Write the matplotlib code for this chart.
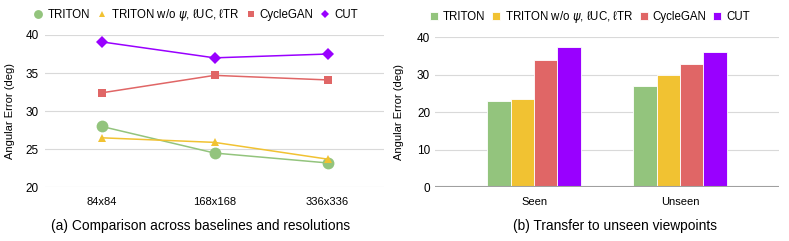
import matplotlib
matplotlib.use("Agg")
import matplotlib.pyplot as plt
import numpy as np

plt.rcParams['font.family'] = ['Liberation Sans', 'DejaVu Sans']
plt.rcParams['mathtext.fontset'] = 'dejavusans'

resolutions = ["84x84", "168x168", "336x336"]
triton_res = [28.0, 24.5, 23.2]
triton_wo_res = [26.5, 25.9, 23.7]
cyclegan_res = [32.4, 34.7, 34.1]
cut_res = [39.1, 37.0, 37.5]

viewpoints = ["Seen", "Unseen"]
triton_view = [23.0, 27.1]
triton_wo_view = [23.6, 29.8]
cyclegan_view = [34.0, 32.8]
cut_view = [37.4, 36.1]

labels = ["TRITON", "TRITON w/o $\\psi$, \u2113UC, \u2113TR", "CycleGAN", "CUT"]
colors = ["#93C47D", "#F1C232", "#E06666", "#9900FF"]

W, H = 789, 241
fig = plt.figure(figsize=(W / 100, H / 100), dpi=100)

def px_axes(x0, y_top, x1, y_bot):
    return fig.add_axes([x0 / W, (H - y_bot) / H, (x1 - x0) / W, (y_bot - y_top) / H])

grid_c = "#D9D9D9"

# Left: line chart
ax1 = px_axes(45, 35, 384, 187.3)
x = np.arange(len(resolutions))
series = [triton_res, triton_wo_res, cyclegan_res, cut_res]
markers = ["o", "^", "s", "D"]
msizes = [8.5, 6, 6, 6]
for s, c, m, ms, lab in zip(series, colors, markers, msizes, labels):
    ax1.plot(x, s, color=c, marker=m, markersize=ms, lw=1.1, label=lab,
             markeredgewidth=0, zorder=3)
ax1.set_xlim(-0.5, 2.5)
ax1.set_ylim(20, 40)
ax1.set_yticks([20, 25, 30, 35, 40])
ax1.set_xticks(x)
ax1.set_xticklabels(resolutions, fontsize=8)
ax1.tick_params(axis='y', labelsize=8.5, length=0, pad=4.3)
ax1.tick_params(axis='x', length=0, pad=7)
ax1.grid(axis='y', color=grid_c, lw=0.8)
ax1.set_axisbelow(True)
for sp in ax1.spines.values():
    sp.set_visible(False)
ax1.set_ylabel("Angular Error (deg)", fontsize=8)
ax1.yaxis.set_label_coords(-0.0885, 0.5)
leg1 = ax1.legend(loc='lower center', bbox_to_anchor=(0.445, 1.05), ncol=4, frameon=False,
                  fontsize=8.3, handlelength=0.8, handletextpad=0.4, columnspacing=0.6,
                  borderaxespad=0, markerscale=0.75)
for h in leg1.legend_handles:
    h.set_linestyle('')
fig.text(201 / W, (H - 226) / H, "(a) Comparison across baselines and resolutions",
         ha='center', va='center', fontsize=9.9)

# Right: bar chart
ax2 = px_axes(435, 37.3, 779, 187)
xv = np.arange(len(viewpoints))
bw = 0.16
bseries = [triton_view, triton_wo_view, cyclegan_view, cut_view]
for i, (s, c, lab) in enumerate(zip(bseries, colors, labels)):
    ax2.bar(xv + (i - 1.5) * bw, s, width=bw, color=c, label=lab,
            edgecolor='white', linewidth=0.6, zorder=3)
ax2.set_xlim(-0.68, 1.68)
ax2.set_ylim(0, 40)
ax2.set_yticks([0, 10, 20, 30, 40])
ax2.set_xticks(xv)
ax2.set_xticklabels(viewpoints, fontsize=8)
ax2.tick_params(axis='y', labelsize=8.5, length=0, pad=3.5)
ax2.tick_params(axis='x', length=0, pad=7)
ax2.grid(axis='y', color=grid_c, lw=0.8)
ax2.set_axisbelow(True)
for sp in ax2.spines.values():
    sp.set_visible(False)
ax2.axhline(0, color="#A0A0A0", lw=1.5, zorder=4)
ax2.set_ylabel("Angular Error (deg)", fontsize=8)
ax2.yaxis.set_label_coords(-0.090, 0.5)
ax2.legend(loc='lower center', bbox_to_anchor=(0.45, 1.05), ncol=4, frameon=False,
           fontsize=8.3, handlelength=0.7, handleheight=0.7, handletextpad=0.4,
           columnspacing=0.6, borderaxespad=0)
fig.text(615 / W, (H - 226) / H, "(b) Transfer to unseen viewpoints",
         ha='center', va='center', fontsize=9.9)

fig.savefig("out.png", dpi=100)
